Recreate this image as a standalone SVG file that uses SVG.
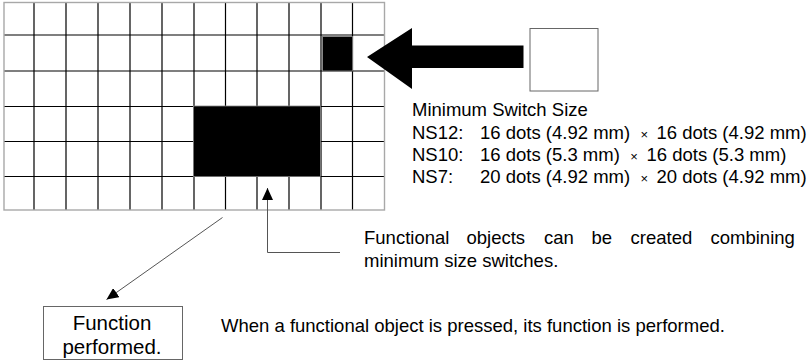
<svg xmlns="http://www.w3.org/2000/svg" width="810" height="361" viewBox="0 0 810 361">
<style>
  text { font-family: "Liberation Sans", Arial, sans-serif; font-size: 18.5px; fill: #000; }
  .grid { stroke: #000; stroke-width: 1.2; fill: none; }
  .frame { stroke: #a8a8a8; stroke-width: 1.4; fill: none; }
  .blk { fill: #000; stroke: #888; stroke-width: 0.8; }
  .box { fill: #fff; stroke: #666; stroke-width: 1; }
  .conn { stroke: #555; stroke-width: 1; fill: none; }
  .big { font-size: 20.5px; }
  .x { font-size: 13px; }
</style>
<defs>
  <marker id="ah" viewBox="0 0 12 11" refX="12" refY="5.5" markerWidth="12" markerHeight="11" markerUnits="userSpaceOnUse" orient="auto">
    <path d="M0,0 L12,5.5 L0,11 Z" fill="#000"/>
  </marker>
</defs>
<rect width="810" height="361" fill="#fff"/>

<g id="screen-grid">
  <path class="grid" d="M34,2.5V210 M66,2.5V210 M98,2.5V210 M130,2.5V210 M162,2.5V210 M194,2.5V210 M225.5,2.5V210 M257,2.5V210 M289,2.5V210 M321,2.5V210 M352.5,2.5V210 M4,35H385 M4,71H385 M4,106.5H385 M4,141.5H385 M4,176.5H385"/>
  <rect class="frame" x="4" y="2.5" width="380.5" height="207.5"/>
</g>

<g id="min-switch-cell">
  <rect class="blk" x="322.5" y="36.5" width="30" height="34.5"/>
</g>

<g id="functional-object">
  <rect class="blk" x="193.5" y="106" width="127" height="70.5"/>
</g>

<g id="big-arrow">
  <polygon points="367,57 412,28 412,45.5 523.5,45.5 523.5,68 412,68 412,89" fill="#000"/>
</g>

<g id="min-switch-box">
  <rect class="box" x="530" y="28.5" width="68" height="62.5"/>
</g>

<g id="min-switch-text">
  <text x="412" y="116">Minimum Switch Size</text>
  <text y="138.5"><tspan x="412">NS12:</tspan><tspan x="480">16 dots (4.92 mm)</tspan><tspan class="x" x="640.5">×</tspan><tspan x="656.5">16 dots (4.92 mm)</tspan></text>
  <text y="160.5"><tspan x="412">NS10:</tspan><tspan x="480">16 dots (5.3 mm)</tspan><tspan class="x" x="630.3">×</tspan><tspan x="646.5">16 dots (5.3 mm)</tspan></text>
  <text y="182.5"><tspan x="412">NS7:</tspan><tspan x="480">20 dots (4.92 mm)</tspan><tspan class="x" x="640.5">×</tspan><tspan x="656.5">20 dots (4.92 mm)</tspan></text>
</g>

<g id="functional-text">
  <text y="244"><tspan x="364">Functional</tspan><tspan x="466.5">objects</tspan><tspan x="544">can</tspan><tspan x="591.5">be</tspan><tspan x="630.5">created</tspan><tspan x="710.5">combining</tspan></text>
  <text x="364" y="266.5">minimum size switches.</text>
</g>

<g id="function-box">
  <rect class="box" x="43.5" y="306.5" width="139" height="53"/>
  <text class="big" x="112" y="329.5" text-anchor="middle">Function</text>
  <text class="big" x="112" y="353.5" text-anchor="middle">performed.</text>
</g>

<g id="pressed-text">
  <text x="221" y="332">When a functional object is pressed, its function is performed.</text>
</g>

<g id="connectors">
  <path class="conn" d="M340,252.5 H267.5 V188" marker-end="url(#ah)"/>
  <path class="conn" d="M222.5,217.5 L106.5,299.5" marker-end="url(#ah)"/>
</g>
</svg>
